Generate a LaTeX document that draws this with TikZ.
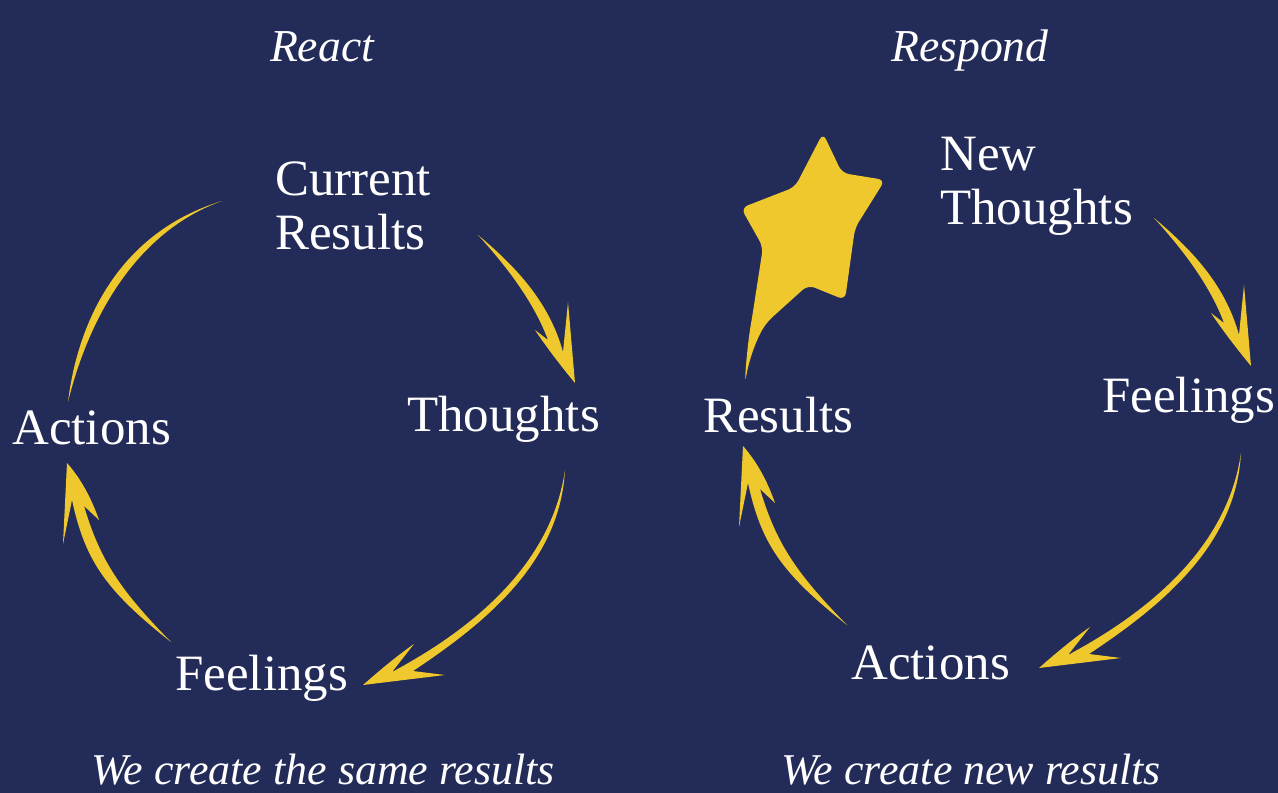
\documentclass[tikz,border=0pt]{standalone}
\usepackage{fontspec}
\setmainfont{Liberation Serif}
\usepackage{tikz}
\definecolor{navy}{RGB}{35,43,88}
\definecolor{gold}{RGB}{238,200,44}

\begin{document}
\begin{tikzpicture}[x=0.02cm,y=-0.02cm,
  word/.style={text=white,font=\fontsize{29}{31}\selectfont,inner sep=0pt,anchor=base west,align=left},
  hand/.style={text=white,font=\fontsize{26}{28}\selectfont\itshape,inner sep=0pt,anchor=base},
  swoosh/.style={fill=gold,draw=none}]
\fill[navy] (0,0) rectangle (1278,793);
\useasboundingbox (0,0) rectangle (1278,793);
% titles
\node[hand] (react) at (322,62) {React};
\node[hand] (respond) at (970,62) {Respond};
\node[hand,font=\fontsize{25}{27}\selectfont\itshape] (same) at (323,784) {We create the same results};
\node[hand,font=\fontsize{25}{27}\selectfont\itshape] (new) at (971,784) {We create new results};
% left cycle
\node[word] (current) at (275,250) {Current\\Results};
\node[word] (thoughts) at (407,432) {Thoughts};
\node[word] (feelings) at (175,690) {Feelings};
\node[word] (actions) at (12,445) {Actions};
% right cycle
\node[word] (newthoughts) at (940,225) {New\\Thoughts};
\node[word] (feelings2) at (1102,413) {Feelings};
\node[word] (actions2) at (851,679) {Actions};
\node[word] (results) at (703,433) {Results};
% the three arrows, same in both cycles
\foreach \dx/\dy in {0/0,676/-17}{
\begin{scope}[shift={(\dx,\dy)}]
\fill[swoosh] (478,235) .. controls (520,270) and (550,305) .. (563,352) -- (568,302) -- (575,383)
  .. controls (560,365) and (545,345) .. (535,330) -- (548,340)
  .. controls (535,305) and (510,270) .. (478,235) -- cycle;
\fill[swoosh] (565,470) .. controls (560,560) and (490,620) .. (413,671) -- (445,675) -- (363,685)
  .. controls (380,670) and (398,655) .. (414,644) -- (392,672)
  .. controls (480,625) and (552,560) .. (565,470) -- cycle;
\fill[swoosh] (171,642) .. controls (105,590) and (85,560) .. (72,500) -- (63,544) -- (67,463)
  .. controls (82,480) and (92,500) .. (99,520) -- (84,506)
  .. controls (100,560) and (120,590) .. (171,642) -- cycle;
\end{scope}}
% open arc on the left
\fill[swoosh] (68,402) .. controls (78,320) and (120,232) .. (222,201)
  .. controls (135,232) and (88,320) .. (68,402) -- cycle;
% star on the right
\fill[swoosh,rounded corners=4pt] (823,133) -- (842,173) -- (885,180) -- (855,228) -- (845,300)
  -- (808,285) -- (767,322) .. controls (756,340) and (749,360) .. (745,383)
  .. controls (746,360) and (749,335) .. (752,318) -- (763,247) -- (741,208) -- (795,187) -- cycle;
\end{tikzpicture}
\end{document}
